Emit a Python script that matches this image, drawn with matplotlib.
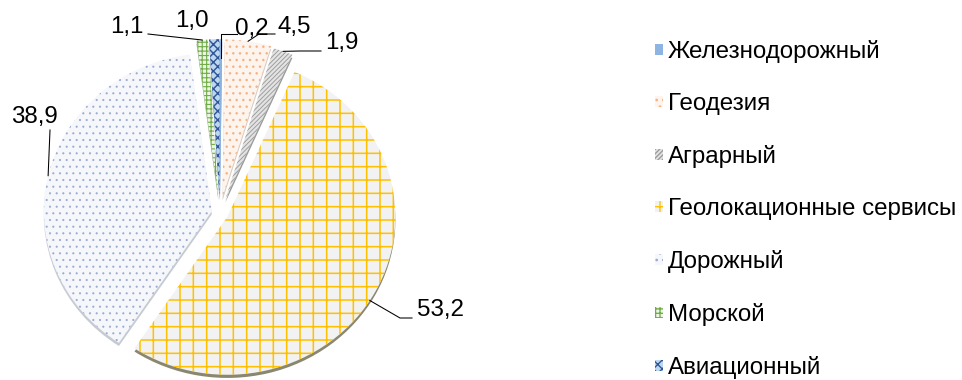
import numpy as np
import matplotlib
matplotlib.use('Agg')
import matplotlib.pyplot as plt
from matplotlib.lines import Line2D
from matplotlib.transforms import IdentityTransform

# ---- data ----
categories = ['Железнодорожный', 'Геодезия', 'Аграрный', 'Геолокационные сервисы',
              'Дорожный', 'Морской', 'Авиационный']
values = [0.2, 4.5, 1.9, 53.2, 38.9, 1.1, 1.0]
value_labels = ['0,2', '4,5', '1,9', '53,2', '38,9', '1,1', '1,0']

# ---- styles ----
face_colors = ['#8DB4E2', '#FDF4EE', '#E3E3E3', '#F2F2F2', '#F5F7FB', '#EDF5E7', '#BDD7EE']
hatch_colors = ['#5B9BD5', '#F4B183', '#9A9A9A', '#FFC000', '#9AAAD2', '#70AD47', '#2F5597']
hatches = ['', '..', '//////', '+', '..', '+++', 'xxx']
hatch_lw = [1.0, 1.0, 0.8, 1.4, 0.7, 1.0, 1.3]
rim_colors = ['#7D9CC4', '#D8CABF', '#9A9A9A', '#8A8770', '#C6CAD2', '#8FA87E', '#50688F']
explode = [0.10, 0.10, 0.09, 0.05, 0.05, 0.10, 0.10]

plt.rcParams['font.family'] = ['Liberation Sans', 'DejaVu Sans']
plt.rcParams['hatch.linewidth'] = 1.2
FS = 21.7

DPI = 80
W, H = 962, 380
fig = plt.figure(figsize=(W / DPI, H / DPI), dpi=DPI)

cx, cy, rx, ry = 220, 213, 168, 158
ax = fig.add_axes([(cx - rx) / W, (H - cy - ry) / H, 2 * rx / W, 2 * ry / H])

rim, _ = ax.pie(values, explode=explode, startangle=90, counterclock=False,
                colors=rim_colors, center=(0, -0.02), wedgeprops=dict(linewidth=0))
wedges, _ = ax.pie(values, explode=explode, startangle=90, counterclock=False,
                   colors=face_colors, wedgeprops=dict(linewidth=0))
for w, h, ec, hl in zip(wedges, hatches, hatch_colors, hatch_lw):
    w.set_hatch(h)
    w.set_edgecolor(ec)
    w.set_linewidth(0)
    if hasattr(w, 'set_hatch_linewidth'):
        w.set_hatch_linewidth(hl)
for w in list(wedges) + list(rim):
    w.set_clip_on(False)
ax.set_aspect('auto')
ax.set_xlim(-1, 1)
ax.set_ylim(-1, 1)
ax.axis('off')

# ---- data labels with leader lines ----
label_pos = [(252, 29), (294, 27), (342, 43), (440, 310), (34, 117), (127, 27), (192, 21)]
# (start point of leader, elbow, anchor angle on wedge (None = mid), radius fraction)
leaders = [
    ((237, 34), 'v', None, 0.88),
    ((275, 34), (259, 34), None, 1.0),
    ((321, 51), (300, 51), None, 1.0),
    ((412, 318), (400, 318), -32.0, 1.0),
    ((50, 130), None, 167.0, 1.0),
    ((148, 34), None, None, 1.0),
    None,
]

for w, lab, pos, ld in zip(wedges, value_labels, label_pos, leaders):
    fig.text(pos[0] / W, 1 - pos[1] / H, lab, ha='center', va='center', fontsize=FS)
    if ld is None:
        continue
    start, elbow, ang, rf = ld
    if ang is None:
        ang = 0.5 * (w.theta1 + w.theta2)
    t = np.deg2rad(ang)
    px = w.center[0] + rf * w.r * np.cos(t)
    py = w.center[1] + rf * w.r * np.sin(t)
    axp, ayp = ax.transData.transform((px, py))
    pts = [(start[0], H - start[1])]
    if elbow == 'v':
        pts.append((axp, H - start[1]))
    elif elbow is not None:
        pts.append((elbow[0], H - elbow[1]))
    pts.append((axp, ayp))
    xs, ys = zip(*pts)
    fig.add_artist(Line2D(xs, ys, transform=IdentityTransform(), color='black', lw=0.95))

# ---- legend ----
fig.legend(wedges, categories, loc='upper left', bbox_to_anchor=(655 / W, 1 - 40 / H),
           frameon=False, prop=dict(size=FS), handlelength=0.32, handleheight=0.32,
           handletextpad=0.2, labelspacing=1.245, borderaxespad=0, borderpad=0)

fig.savefig('out.png', dpi=DPI)
